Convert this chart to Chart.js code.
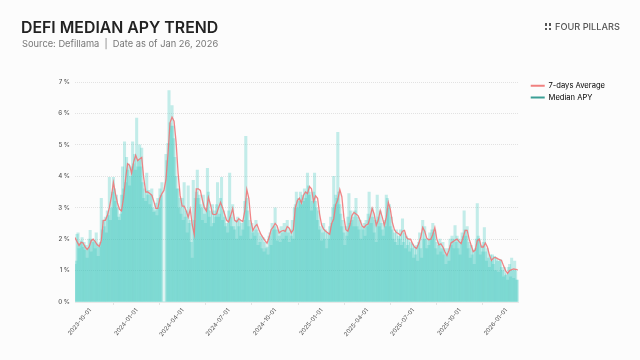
<!DOCTYPE html>
<html>
<head>
<meta charset="utf-8">
<script src="https://cdn.jsdelivr.net/npm/chart.js@4"></script>
<style>
  html, body { margin: 0; padding: 0; background: #fcfcfc; }
  body { width: 640px; height: 360px; position: relative; overflow: hidden; font-family: Inter, sans-serif; }
  #chart { position: absolute; left: 0; top: 0; }
  .title { position: absolute; left: 21px; top: 18px; font-size: 15.85px; font-weight: 600; color: #222; white-space: nowrap; }
  .sub { position: absolute; left: 22px; top: 38px; font-size: 9.3px; color: #777; white-space: pre; }
  .logo { position: absolute; left: 555px; top: 21px; font-size: 9.2px; font-weight: 500; color: #555; white-space: nowrap; }
  .dots { position: absolute; left: 545px; top: 23px; width: 7px; height: 7px; display: grid; grid-template-columns: 2px 2px; gap: 2px; }
  .dots i { background: #555; display: block; }
</style>
</head>
<body>
<canvas id="chart" width="640" height="360"></canvas>
<div class="title">DEFI MEDIAN APY TREND</div>
<div class="sub">Source: Defillama  |  Date as of Jan 26, 2026</div>
<div class="dots"><i></i><i></i><i></i><i></i></div>
<div class="logo">FOUR PILLARS</div>
<script>
const START_DATE = '2023-09-01';
const TICK_DATES = ['2023-10-01', '2024-01-01', '2024-04-01', '2024-07-01', '2024-10-01',
  '2025-01-01', '2025-04-01', '2025-07-01', '2025-10-01', '2026-01-01'];
const Y_TICKS = [0, 1, 2, 3, 4, 5, 6, 7];
const MEDIAN_STEP_DAYS = 2;
const AVG_STEP_DAYS = 4;

// one row is about 10px of chart width
const MEDIAN_APY = [
  1.2,1.3,2.15,2.2,1.7,1.85,1.95,2.05,1.75,1.9,
  1.65,1.8,1.4,1.7,2.0,2.28,1.6,2.0,1.9,1.95,
  1.7,2.2,1.85,1.45,1.75,1.9,3.3,2.3,2.6,2.4,
  2.7,2.2,2.9,2.75,3.97,2.6,3.0,3.5,3.97,3.6,
  3.2,3.4,3.0,2.7,2.6,2.8,3.4,4.3,3.6,
  5.1,3.8,4.6,4.2,4.4,3.7,4.0,4.3,5.1,4.4,
  4.7,4.2,5.85,4.3,4.5,5.0,4.3,4.9,3.8,3.3,
  3.6,3.2,4.1,3.4,3.55,3.1,3.4,3.6,3.0,2.85,
  2.9,3.15,2.75,3.3,3.0,3.6,3.4,3.8,0,0,
  0,4.7,4.5,5.05,6.73,5.7,5.6,6.25,5.6,5.2,
  4.6,4.0,3.6,3.6,3.0,3.3,2.8,3.3,2.6,3.8,
  2.7,2.9,2.2,3.7,2.5,2.6,1.9,1.4,3.87,2.6,
  3.3,3.5,4.2,3.3,3.4,3.1,3.0,2.6,3.4,2.8,
  2.5,3.0,4.25,3.5,2.7,2.9,2.4,3.1,2.5,
  2.9,2.7,3.1,3.8,2.7,2.8,3.3,3.97,2.6,2.9,
  2.7,2.4,2.5,2.2,2.9,4.1,2.7,2.4,3.1,2.4,
  2.3,2.6,2.0,2.7,2.4,2.6,2.1,2.5,2.3,2.6,
  3.2,5.27,3.3,2.9,2.4,2.6,2.0,2.5,2.2,2.3,
  2.1,2.6,2.3,1.8,2.2,1.9,2.1,1.7,2.05,1.6,
  1.9,1.7,1.75,1.5,2.1,2.2,1.8,2.5,2.3,2.4,
  3.0,2.3,1.95,2.3,2.1,1.9,2.4,2.2,2.0,2.5,
  2.3,2.1,2.6,2.2,1.9,2.3,2.1,2.6,2.0,3.0,
  3.1,3.5,3.0,3.3,3.2,3.5,3.1,3.4,3.2,
  3.6,3.3,3.5,4.1,3.7,3.4,3.5,2.9,3.2,3.5,
  4.1,3.2,3.0,2.6,2.9,2.3,2.4,1.95,2.2,2.5,
  2.0,2.3,1.7,2.2,2.0,2.4,2.7,2.5,3.0,4.0,
  3.1,3.4,3.3,5.4,3.5,3.1,2.8,2.4,2.6,2.2,
  1.8,2.4,2.1,2.7,3.45,2.5,2.9,2.6,2.7,2.4,
  2.9,3.3,2.4,2.7,2.3,2.6,2.0,2.4,2.3,2.5,
  2.1,2.6,2.4,2.8,3.5,2.7,2.5,3.0,2.7,2.2,
  2.6,1.9,3.4,2.7,2.4,2.9,2.5,2.3,2.1,2.6,
  2.4,3.4,3.3,3.0,3.1,2.4,2.7,2.3,2.0,
  2.2,1.9,2.3,1.8,2.1,2.0,2.3,1.8,2.65,1.9,
  2.2,1.7,2.1,1.8,2.0,1.6,1.9,1.7,1.85,1.4,
  1.75,1.5,1.8,1.3,1.9,2.2,1.7,1.4,2.6,2.0,
  2.4,2.0,1.7,2.0,1.8,2.2,2.0,2.3,2.5,2.2,
  2.3,1.7,1.9,1.5,1.8,2.0,1.6,1.7,1.9,1.5,
  1.7,1.2,1.5,1.7,1.3,2.0,1.8,2.1,2.0,1.7,
  2.43,1.9,2.1,1.7,2.0,1.5,1.9,2.2,2.1,2.9,
  2.3,2.1,2.4,1.7,1.9,1.4,1.8,1.5,1.65,1.2,
  1.7,2.0,3.13,2.1,2.0,1.5,1.8,1.6,1.9,
  2.37,1.6,1.3,1.7,1.4,1.1,1.5,1.3,1.5,1.2,
  1.45,1.0,1.4,1.3,0.95,1.3,1.35,1.1,1.0,0.8,
  1.1,0.85,0.9,0.7,1.1,1.2,0.8,1.4,1.0,0.75,
  1.3,1.0,0.7,0.7,
];

const AVG_APY = [
  2.05,1.92,1.8,1.9,1.88,1.75,1.67,1.75,1.95,2.0,
  1.92,1.82,1.77,1.95,2.6,2.6,2.75,3.0,3.35,3.8,
  3.45,3.15,2.95,2.9,3.3,3.9,4.4,4.35,4.1,4.45,
  4.67,4.5,4.55,4.6,3.95,3.5,3.5,3.45,3.4,3.2,
  2.98,2.98,3.3,3.45,3.55,3.9,4.7,5.7,5.88,5.75,
  5.1,4.1,3.4,3.05,3.05,2.9,2.7,2.95,2.45,2.15,
  3.6,3.6,3.55,3.25,3.0,2.9,3.33,3.1,2.8,2.78,
  2.8,3.0,3.17,3.0,2.8,2.6,2.55,2.75,2.97,2.6,
  2.55,2.65,2.6,2.56,2.9,3.58,3.3,2.6,2.28,2.4,
  2.47,2.3,2.15,2.05,1.95,1.87,2.05,2.3,2.38,2.5,
  2.42,2.2,2.25,2.28,2.25,2.4,2.35,2.2,2.3,3.0,
  3.23,3.3,3.15,3.39,3.5,3.45,3.67,3.6,3.2,3.38,
  3.3,2.8,2.45,2.32,2.25,2.2,2.15,2.5,2.65,3.1,
  3.25,3.58,3.35,2.7,2.3,2.25,2.45,2.75,2.85,2.8,
  2.75,2.6,2.42,2.37,2.45,2.48,2.7,2.98,2.8,2.44,
  2.6,2.91,2.7,2.44,2.7,3.17,2.95,2.53,2.3,2.21,
  2.18,2.12,2.25,2.28,2.05,2.0,2.0,1.85,1.75,1.7,
  1.85,2.05,2.37,2.25,2.03,1.98,2.0,2.15,2.37,2.0,
  1.82,1.85,1.75,1.6,1.48,1.65,1.88,1.92,1.97,2.0,
  1.92,1.86,2.05,2.28,2.28,2.0,1.8,1.6,1.65,1.95,
  2.0,1.75,1.75,1.88,1.75,1.5,1.32,1.4,1.42,1.38,
  1.35,1.32,1.15,1.0,0.91,1.0,1.03,1.05,1.04,1.03,
];

const DAY_MS = 86400000;
const dayOffset = d => Math.round((new Date(d) - new Date(START_DATE)) / DAY_MS);
const tickDays = TICK_DATES.map(dayOffset);
const LAST_DAY = dayOffset('2026-01-26');

// legend sits a little higher and further right than the layout puts it
const nudgeLegend = {
  id: 'nudgeLegend',
  afterLayout(chart) {
    chart.legend.top -= 4;
    chart.legend.left += 8;
  },
};

new Chart(document.getElementById('chart').getContext('2d'), {
  type: 'bar',
  data: {
    datasets: [
      {
        type: 'line',
        label: '7-days Average',
        data: AVG_APY.map((y, i) => ({ x: i * AVG_STEP_DAYS, y })),
        borderColor: 'rgba(240,120,122,0.9)',
        borderWidth: 1.3,
        pointRadius: 0,
        tension: 0,
        order: 0,
      },
      {
        type: 'bar',
        label: 'Median APY',
        data: MEDIAN_APY.map((y, i) => ({ x: i * MEDIAN_STEP_DAYS, y })),
        backgroundColor: 'rgba(60,200,188,0.3)',
        barThickness: 2.4,
        order: 1,
      },
    ],
  },
  plugins: [nudgeLegend],
  options: {
    responsive: false,
    animation: false,
    layout: { padding: { top: 82, right: 33, left: 0, bottom: 0 } },
    plugins: {
      tooltip: { enabled: false },
      legend: {
        position: 'right',
        align: 'start',
        labels: {
          color: '#777',
          font: { family: 'Inter', size: 7.6 },
          boxWidth: 14,
          boxHeight: 2,
          padding: 4,
          generateLabels: () => [
            { text: '7-days Average', fillStyle: '#f0807f', strokeStyle: '#f0807f', lineWidth: 0 },
            { text: 'Median APY', fillStyle: '#3b9f95', strokeStyle: '#3b9f95', lineWidth: 0 },
          ],
        },
      },
    },
    scales: {
      x: {
        type: 'linear',
        min: 0,
        max: LAST_DAY,
        offset: false,
        afterBuildTicks: axis => { axis.ticks = tickDays.map(value => ({ value })); },
        afterFit: axis => { axis.height = 58; },
        grid: { drawOnChartArea: false, color: '#e3e3e3', tickLength: 3 },
        border: { color: '#e8e8e8' },
        ticks: {
          autoSkip: false,
          maxRotation: 50,
          minRotation: 50,
          padding: 2,
          color: '#555',
          font: { family: 'Inter', size: 6 },
          callback: v => TICK_DATES[tickDays.indexOf(v)],
        },
      },
      y: {
        min: 0,
        max: 7,
        afterBuildTicks: axis => { axis.ticks = Y_TICKS.map(value => ({ value })); },
        afterFit: axis => { axis.width = 75; },
        grid: { color: '#e2e2e2', tickLength: 0 },
        border: { display: false, dash: [1, 1] },
        ticks: {
          padding: 5,
          color: '#555',
          font: { family: 'Inter', size: 6.2, weight: 500 },
          callback: v => v + ' %',
        },
      },
    },
  },
});
</script>
</body>
</html>
